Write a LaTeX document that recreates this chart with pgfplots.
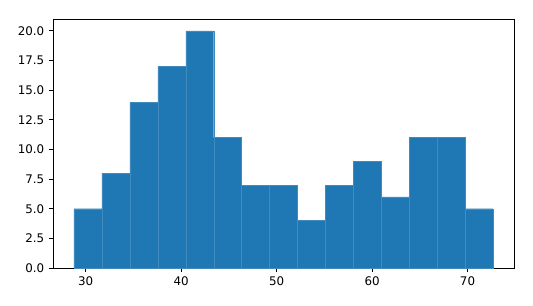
\documentclass[border=0pt]{standalone}
\usepackage{pgfplots}
\pgfplotsset{compat=1.18}
\usepackage{fontspec}
\setmainfont{DejaVu Sans}
\definecolor{mplblue}{HTML}{1F77B4}
\begin{document}
\begin{tikzpicture}[x=0.75pt,y=0.75pt]
\path[use as bounding box] (-53,-37) rectangle (480,268);
\begin{axis}[
  at={(0,0)}, anchor=south west, scale only axis,
  width=345.75pt, height=186.75pt,
  xmin=26.57, xmax=74.87, ymin=0, ymax=21,
  xtick={30,40,...,70}, ytick={0,2.5,...,20},
  yticklabel style={/pgf/number format/.cd, fixed, fixed zerofill, precision=1},
  /pgf/number format/assume math mode=true,
  ticklabel style={font=\fontsize{8.9}{10}\selectfont},
  tick align=outside, major tick length=3pt,
  xtick pos=bottom, ytick pos=left,
  tick style={black, line width=0.6pt},
  axis line style={line width=0.6pt},
]
\addplot[ybar interval, fill=mplblue, draw=mplblue!85!white, line width=0.25pt] coordinates {
(28.77,5) (31.70,8) (34.62,14) (37.55,17) (40.48,20) (43.41,11) (46.33,7) (49.26,7)
(52.19,4) (55.11,7) (58.04,9) (60.97,6) (63.89,11) (66.82,11) (69.75,5) (72.67,5)
};
\end{axis}
\end{tikzpicture}
\end{document}
